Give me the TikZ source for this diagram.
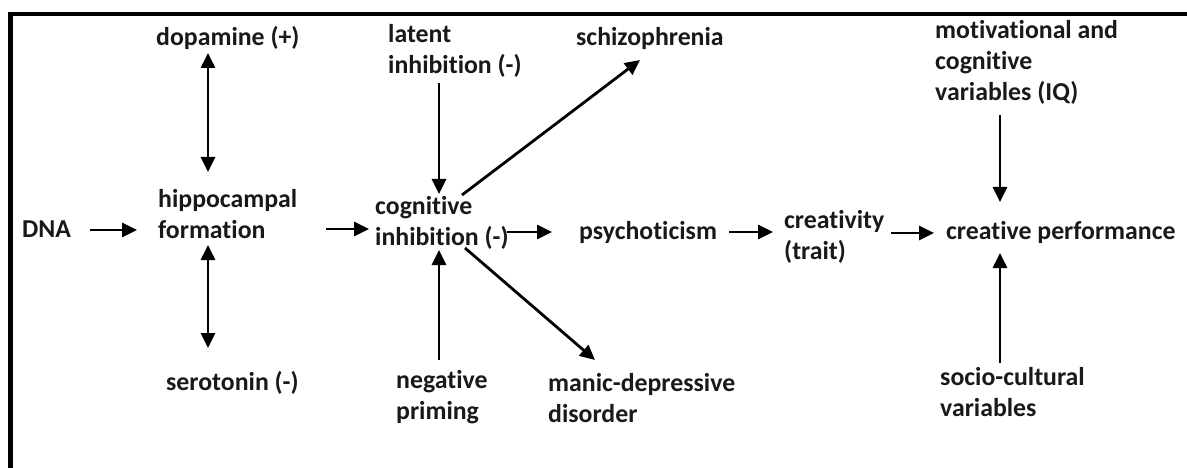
\documentclass[tikz,border=0pt]{standalone}
\usepackage{fontspec}
\setmainfont{Carlito}[RawFeature={-liga,-calt,-dlig}]
\usetikzlibrary{arrows.meta,calc}
\begin{document}
\begin{tikzpicture}[x=1pt,y=-1pt,
  lab/.style={anchor=west,inner sep=0pt,align=left,font=\fontsize{25.8}{31}\selectfont\bfseries,text=black!90},
  arr/.style={line width=2.8pt,-{Triangle[length=15pt,width=14pt]}},
  darr/.style={line width=2.8pt,{Triangle[length=15pt,width=14pt]}-{Triangle[length=15pt,width=14pt]}}]
\useasboundingbox (0,0) rectangle (1187,468);
\fill[white] (0,0) rectangle (1187,468);
\draw[line width=4.5pt,line join=miter] (1187,14) -- (10.5,14) -- (10.5,468);
% nodes
\node[lab] (dna) at (22,229) {DNA};
\node[lab] (hip) at (158,214) {hippocampal\\formation};
\node[lab] (dop) at (156,38) {dopamine (+)};
\node[lab] (ser) at (166,383) {serotonin (-)};
\node[lab] (lat) at (388,51) {latent\\inhibition (-)};
\node[lab] (cog) at (375,223) {cognitive\\inhibition (-)};
\node[lab] (sch) at (576,38) {schizophrenia};
\node[lab] (psy) at (579,232) {psychoticism};
\node[lab] (cre) at (784,237) {creativity\\(trait)};
\node[lab] (perf) at (946,232) {creative performance};
\node[lab] (mot) at (935,62) {motivational and\\cognitive\\variables (IQ)};
\node[lab] (soc) at (940,392) {socio-cultural\\variables};
\node[lab] (neg) at (396,397) {negative\\priming};
\node[lab] (man) at (548,398) {manic-depressive\\disorder};
% connectors
\draw[arr] ($(dna.west)+(68,1)$) -- ($(hip.west)+(-21,16)$);
\draw[darr] ($(dop.west)+(52,15)$) -- ($(hip.west)+(50,-42)$);
\draw[darr] ($(hip.west)+(50,31)$) -- ($(ser.west)+(42,-35)$);
\draw[arr] ($(hip.west)+(168,15)$) -- ($(cog.west)+(-6,6)$);
\draw[arr] ($(lat.west)+(51,32)$) -- ($(cog.west)+(64,-29)$);
\draw[arr] ($(neg.west)+(43,-37)$) -- ($(cog.west)+(64,27)$);
\draw[arr] ($(cog.west)+(87,-28)$) -- ($(sch.west)+(64,22)$);
\draw[arr] ($(cog.west)+(132,9)$) -- ($(psy.west)+(-27,0)$);
\draw[arr] ($(cog.west)+(90,25)$) -- ($(man.west)+(47,-38)$);
\draw[arr] ($(psy.west)+(150,0)$) -- ($(cre.west)+(-11,-5)$);
\draw[arr] ($(cre.west)+(107,-4)$) -- ($(perf.west)+(-12,1)$);
\draw[arr] ($(mot.west)+(65,53)$) -- ($(perf.west)+(54,-30)$);
\draw[arr] ($(soc.west)+(60,-29)$) -- ($(perf.west)+(54,21)$);
\end{tikzpicture}
\end{document}
